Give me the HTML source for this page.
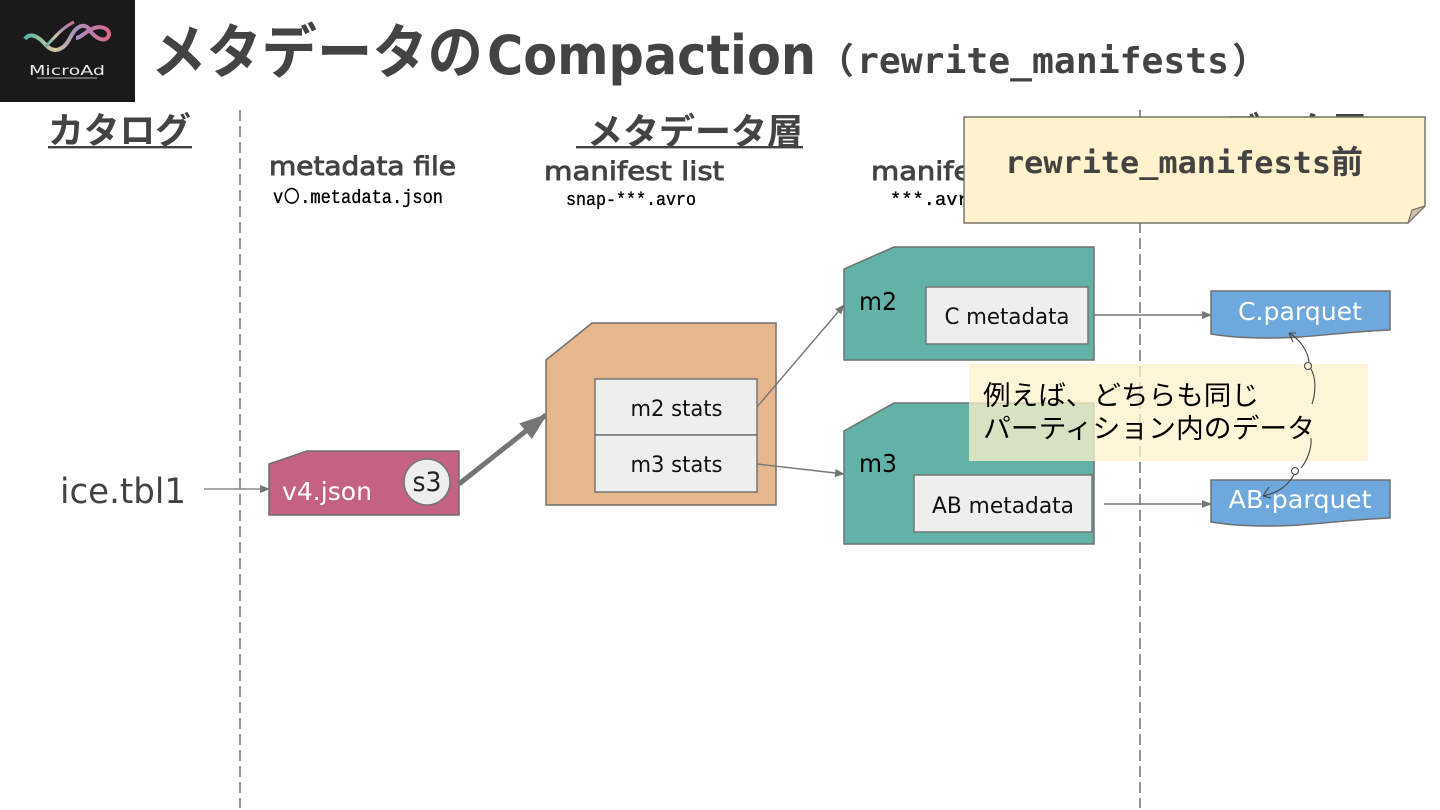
<!DOCTYPE html>
<html lang="ja"><head><meta charset="utf-8"><title>メタデータのCompaction</title>
<style>html,body{margin:0;padding:0;background:#fff;width:1440px;height:810px;overflow:hidden}svg{display:block}
text{font-family:"Liberation Sans","Noto Sans CJK JP",sans-serif}
.d{font-family:"DejaVu Sans","Noto Sans CJK JP",sans-serif}
.j{font-family:"Noto Sans CJK JP",sans-serif}
.dm{font-family:"DejaVu Sans Mono","Noto Sans CJK JP",monospace}
.m{font-family:"Liberation Mono","IPAGothic",monospace;stroke:#000;stroke-width:.35}
</style></head><body>
<svg width="1440" height="810" viewBox="0 0 1440 810" xmlns="http://www.w3.org/2000/svg">
<defs>
<marker id="a" markerUnits="userSpaceOnUse" markerWidth="10" markerHeight="8" refX="9" refY="4" orient="auto"><path d="M0 0L10 4L0 8Z" fill="#757575"/></marker>
<marker id="b" markerUnits="userSpaceOnUse" markerWidth="30" markerHeight="24" refX="28" refY="12" orient="auto"><path d="M2 2L30 12L2 22Z" fill="#757575"/></marker>
<linearGradient id="g" x1="0" x2="1"><stop offset="0" stop-color="#4fb3a3"/><stop offset=".35" stop-color="#d8c8a0"/><stop offset=".6" stop-color="#a78fc0"/><stop offset="1" stop-color="#d9688c"/></linearGradient>
</defs>
<rect width="1440" height="810" fill="#fff"/>
<!-- logo -->
<rect width="135" height="102" fill="#1a1a1a"/>
<path d="M25 39C30 32 38 36 46 45C54 54 64 50 70 38C76 26 84 22 90 30C94 38 106 44 109 35C110 28 100 25 92 29C84 33 80 38 76 38" fill="none" stroke="url(#g)" stroke-width="4"/>
<path d="M46 46C56 36 62 28 74 22" fill="none" stroke="url(#g)" stroke-width="3"/>
<text x="67" y="75" text-anchor="middle" font-size="13.5" fill="#e8e8e8" textLength="76" lengthAdjust="spacingAndGlyphs" class="d">MicroAd</text>
<rect x="37" y="77" width="60" height="2" fill="#666"/>
<!-- title -->
<text x="151" y="73" font-size="59" font-weight="700" fill="#434343" class="j" textLength="332" lengthAdjust="spacingAndGlyphs">メタデータの</text>
<text x="487" y="74" font-size="54" font-weight="700" fill="#434343" class="d" textLength="329" lengthAdjust="spacingAndGlyphs">Compaction</text>
<text x="818" y="73" font-size="36" font-weight="700" fill="#434343" class="j">（</text>
<text x="857" y="73" font-size="36" font-weight="700" fill="#434343" class="dm" textLength="372" lengthAdjust="spacingAndGlyphs">rewrite_manifests</text>
<text x="1232" y="73" font-size="36" font-weight="700" fill="#434343" class="j">）</text>
<!-- dashed lines -->
<path d="M240 110V808M1140 110V808" stroke="#666" stroke-width="1.4" stroke-dasharray="11 5" fill="none"/>
<!-- headings -->
<text x="48" y="143" font-size="36" font-weight="700" fill="#434343" class="j" textLength="143" lengthAdjust="spacingAndGlyphs">カタログ</text>
<rect x="48" y="146" width="144" height="2.4" fill="#434343"/>
<text x="587" y="144" font-size="36" font-weight="700" fill="#434343" class="j" textLength="216" lengthAdjust="spacingAndGlyphs">メタデータ層</text>
<rect x="576" y="146" width="227" height="2.4" fill="#434343"/>
<text x="1224" y="143" font-size="36" font-weight="700" fill="#434343" class="j" textLength="143" lengthAdjust="spacingAndGlyphs">データ層</text>
<text x="269" y="175" font-size="26" fill="#434343" class="d" style="stroke:#434343;stroke-width:.9" textLength="187" lengthAdjust="spacingAndGlyphs">metadata file</text>
<text x="273" y="203" font-size="19" fill="#000" class="m" textLength="170" lengthAdjust="spacingAndGlyphs">v〇.metadata.json</text>
<text x="544" y="180" font-size="26" fill="#434343" class="d" style="stroke:#434343;stroke-width:.9" textLength="180" lengthAdjust="spacingAndGlyphs">manifest list</text>
<text x="566" y="205" font-size="18" fill="#000" class="m" textLength="130" lengthAdjust="spacingAndGlyphs">snap-***.avro</text>
<text x="871" y="180" font-size="26" fill="#434343" class="d" style="stroke:#434343;stroke-width:.9" textLength="180" lengthAdjust="spacingAndGlyphs">manifest file</text>
<text x="890" y="205" font-size="18" fill="#000" class="m" textLength="90" lengthAdjust="spacingAndGlyphs">***.avro</text>
<!-- catalog -->
<text x="60" y="503" font-size="35" fill="#434343" class="d" textLength="126" lengthAdjust="spacingAndGlyphs">ice.tbl1</text>
<path d="M204 489H269" stroke="#757575" stroke-width="1.3" marker-end="url(#a)"/>
<!-- v4 -->
<path d="M269 464L307 451H459V515H269Z" fill="#c46282" stroke="#6f6f6f" stroke-width="1.5"/>
<text x="282" y="500" font-size="25" fill="#fff" class="d" textLength="90" lengthAdjust="spacingAndGlyphs">v4.json</text>
<circle cx="427" cy="482" r="23" fill="#eeeeee" stroke="#757575" stroke-width="1.5"/>
<text x="427" y="491" font-size="27" fill="#222" class="d" text-anchor="middle" textLength="29" lengthAdjust="spacingAndGlyphs">s3</text>
<path d="M459 484L546 415" stroke="#757575" stroke-width="5" marker-end="url(#b)"/>
<!-- manifest list -->
<path d="M546 360L592 323H776V505H546Z" fill="#e6b68c" stroke="#707070" stroke-width="1.5"/>
<rect x="595" y="379" width="162" height="56" fill="#eeeeee" stroke="#757575" stroke-width="1.5"/>
<rect x="595" y="435" width="162" height="57" fill="#eeeeee" stroke="#757575" stroke-width="1.5"/>
<text x="676.500" y="416" font-size="22" fill="#111" class="d" text-anchor="middle" textLength="92" lengthAdjust="spacingAndGlyphs">m2 stats</text>
<text x="676.500" y="472" font-size="22" fill="#111" class="d" text-anchor="middle" textLength="92" lengthAdjust="spacingAndGlyphs">m3 stats</text>
<path d="M757 407L844 305" stroke="#757575" stroke-width="1.4" marker-end="url(#a)"/>
<path d="M757 464L844 474" stroke="#757575" stroke-width="1.4" marker-end="url(#a)"/>
<!-- m2 -->
<path d="M844 269L894 247H1094V360H844Z" fill="#62b2a8" stroke="#707070" stroke-width="1.5"/>
<text x="859" y="310" font-size="25" fill="#000" class="d" textLength="38" lengthAdjust="spacingAndGlyphs">m2</text>
<rect x="926" y="287" width="162" height="57" fill="#eeeeee" stroke="#757575" stroke-width="1.5"/>
<text x="1007" y="324" font-size="22" fill="#111" class="d" text-anchor="middle" textLength="125" lengthAdjust="spacingAndGlyphs">C metadata</text>
<!-- m3 -->
<path d="M844 431L894 403H1094V544H844Z" fill="#62b2a8" stroke="#707070" stroke-width="1.5"/>
<text x="859" y="472" font-size="25" fill="#000" class="d" textLength="38" lengthAdjust="spacingAndGlyphs">m3</text>
<rect x="914" y="475" width="178" height="57" fill="#eeeeee" stroke="#757575" stroke-width="1.5"/>
<text x="1003" y="513" font-size="22" fill="#111" class="d" text-anchor="middle" textLength="142" lengthAdjust="spacingAndGlyphs">AB metadata</text>
<!-- connectors to parquet -->
<path d="M1094 315H1211" stroke="#757575" stroke-width="1.4" marker-end="url(#a)"/>
<path d="M1104 504H1211" stroke="#757575" stroke-width="1.4" marker-end="url(#a)"/>
<!-- parquet -->
<path d="M1211 291H1390V330C1340 332 1310 338 1270 338C1245 338 1230 337 1211 334Z" fill="#6fa8dc" stroke="#6f6f6f" stroke-width="1.5"/>
<text x="1300" y="320" font-size="25" fill="#fff" class="d" text-anchor="middle" textLength="124" lengthAdjust="spacingAndGlyphs">C.parquet</text>
<path d="M1211 480H1390V518C1340 520 1310 526 1270 526C1245 526 1230 525 1211 522Z" fill="#6fa8dc" stroke="#6f6f6f" stroke-width="1.5"/>
<text x="1300" y="508" font-size="25" fill="#fff" class="d" text-anchor="middle" textLength="143" lengthAdjust="spacingAndGlyphs">AB.parquet</text>
<!-- note yellow -->
<rect x="969" y="364" width="399" height="97" fill="#fff2cc" fill-opacity=".75"/>
<text x="983" y="405" font-size="27" fill="#000" class="j" textLength="276" lengthAdjust="spacingAndGlyphs">例えば、どちらも同じ</text>
<text x="983" y="438" font-size="27" fill="#000" class="j" textLength="332" lengthAdjust="spacingAndGlyphs">パーティション内のデータ</text>
<!-- curved arrows -->
<g fill="none" stroke="#434343" stroke-width="1.1">
<path d="M1289 333C1301 340 1308 352 1309 362"/>
<path d="M1289 333L1296 333M1289 333L1293 342"/>
<circle cx="1308" cy="366" r="3.500" fill="#fff8e0"/>
<path d="M1311 369C1316 378 1316 392 1312 404"/>
<path d="M1311 438C1312 450 1306 462 1301 468"/>
<circle cx="1295" cy="471" r="3.500" fill="#fff"/>
<path d="M1294 475C1286 488 1276 493 1263 496"/>
<path d="M1263 496L1269 487M1263 496L1271 498"/>
</g>
<!-- sticky note -->
<path d="M964 117H1425V206L1408 223H964Z" fill="#fff2cc" stroke="#76736a" stroke-width="1.5"/>
<path d="M1408 223L1412 210L1425 206Z" fill="#ccc2a4" stroke="#76736a" stroke-width="1.2"/>
<text x="1005" y="173" font-size="30" font-weight="700" fill="#434343" class="dm" textLength="326" lengthAdjust="spacingAndGlyphs">rewrite_manifests</text>
<text x="1331" y="173" font-size="32" font-weight="700" fill="#434343" class="j">前</text>
</svg>
</body></html>
